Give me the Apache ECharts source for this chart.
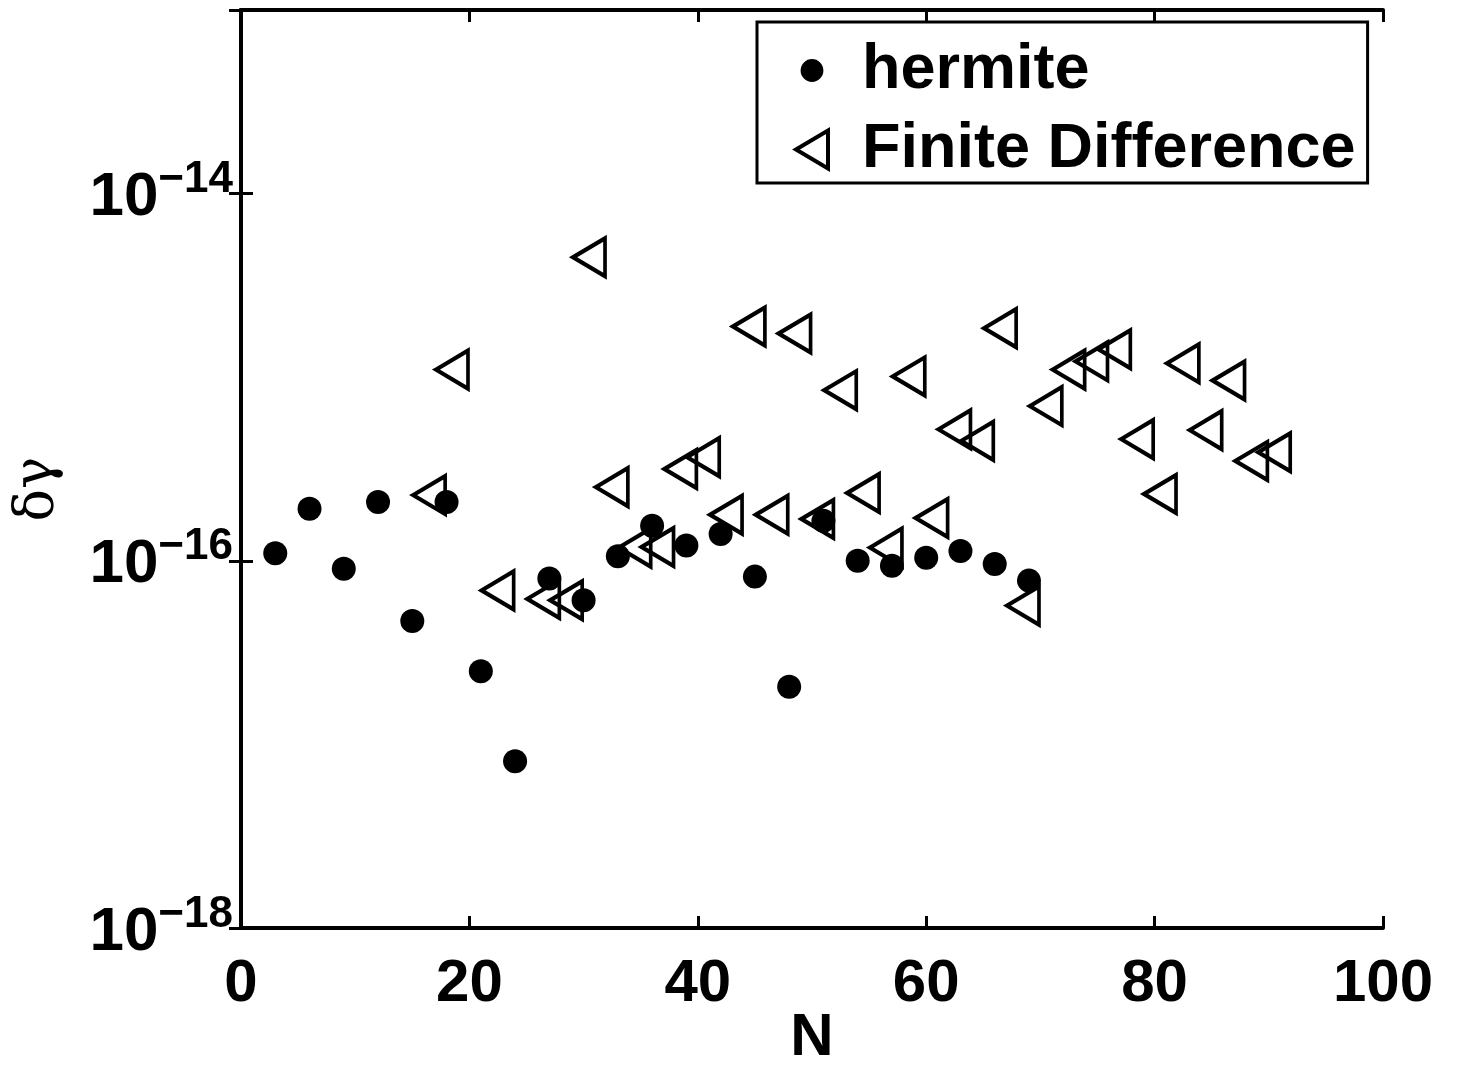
<!DOCTYPE html>
<html>
<head>
<meta charset="utf-8">
<script src="https://cdn.jsdelivr.net/npm/echarts@6/dist/echarts.min.js"></script>
<style>html,body{margin:0;padding:0;background:#fff;}#c{width:1457px;height:1067px;}</style>
</head>
<body>
<div id="c"></div>
<script>
// ---- data ----
const hermiteN = [3, 6, 9, 12, 15, 18, 21, 24, 27, 30, 33, 36, 39, 42, 45, 48, 51, 54, 57, 60, 63, 66, 69];
const hermiteVals = [1.1e-16, 1.92e-16, 0.905e-16, 2.09e-16, 0.47e-16, 2.09e-16, 0.25e-16, 8.1e-18,
  0.8e-16, 0.61e-16, 1.06e-16, 1.55e-16, 1.21e-16, 1.4e-16, 0.82e-16, 0.206e-16, 1.65e-16,
  1.0e-16, 0.94e-16, 1.04e-16, 1.13e-16, 0.96e-16, 0.78e-16];
const fdN = [17, 19, 23, 27, 29, 31, 33, 35, 37, 39, 41, 43, 45, 47, 49, 51, 53, 55, 57, 59, 61, 63,
  65, 67, 69, 71, 73, 75, 77, 79, 81, 83, 85, 87, 89, 91];
const fdVals = [2.28e-16, 1.1e-15, 0.69e-16, 0.62e-16, 0.61e-16, 4.5e-15, 2.52e-16, 1.18e-16, 1.19e-16,
  3.16e-16, 3.67e-16, 1.78e-16, 1.89e-15, 1.78e-16, 1.73e-15, 1.69e-16, 8.5e-16, 2.34e-16, 1.18e-16,
  1.01e-15, 1.71e-16, 5.2e-16, 4.5e-16, 1.85e-15, 0.57e-16, 6.96e-16, 1.1e-15, 1.22e-15, 1.42e-15,
  4.6e-16, 2.31e-16, 1.19e-15, 5.15e-16, 9.6e-16, 3.5e-16, 3.9e-16];
const seriesNames = ['hermite', 'Finite Difference'];
const xTicks = [0, 20, 40, 60, 80, 100];
const yExponents = [-18, -16, -14];

const FONT = 'Liberation Sans';
const TRI = 'path://M0,19 L32,0 L32,38 Z';
const CIRCLE_LEG = 'path://M0,0 M40,40 M32,20 A12,12 0 1 1 32,19.99 Z';

const chart = echarts.init(document.getElementById('c'), null, {renderer: 'canvas'});
const axisLineStyle = {color: '#000', width: 4};
const tickCfg = {show: true, inside: true, length: 12, lineStyle: {color: '#000', width: 3}};

chart.setOption({
  backgroundColor: '#fff',
  animation: false,
  grid: {left: 241, right: 74, top: 10, bottom: 139, containLabel: false, outerBoundsMode: 'none'},
  legend: {
    orient: 'vertical', left: 757, top: 22,
    padding: [17, 12, 2, 36], itemGap: 16,
    itemWidth: 90, itemHeight: 38,
    backgroundColor: '#fff', borderColor: '#000', borderWidth: 3,
    textStyle: {fontSize: 63, fontWeight: 'bold', fontFamily: FONT, color: '#000'},
    data: [
      {name: seriesNames[0], icon: CIRCLE_LEG},
      {name: seriesNames[1], icon: TRI, itemStyle: {color: 'rgba(255,255,255,0)', borderColor: '#000', borderWidth: 4, borderJoin: 'miter'}}
    ]
  },
  xAxis: [{
    type: 'value', min: xTicks[0], max: xTicks[xTicks.length - 1], interval: 20, position: 'bottom',
    axisLine: {show: true, lineStyle: axisLineStyle}, axisTick: tickCfg, splitLine: {show: false},
    axisLabel: {fontSize: 60, fontWeight: 'bold', fontFamily: FONT, color: '#000', margin: 26},
    name: 'N', nameLocation: 'middle', nameGap: 80, nameMoveOverlap: false,
    nameTextStyle: {fontSize: 60, fontWeight: 'bold', fontFamily: FONT, color: '#000'}
  }, {
    type: 'value', min: xTicks[0], max: xTicks[xTicks.length - 1], interval: 20, position: 'top',
    axisLine: {show: true, lineStyle: axisLineStyle}, axisTick: tickCfg, splitLine: {show: false},
    axisLabel: {show: false}
  }],
  yAxis: [{
    type: 'log', logBase: 10, min: Math.pow(10, -18), max: Math.pow(10, -13), interval: 2, position: 'left',
    axisLine: {show: true, lineStyle: axisLineStyle}, axisTick: tickCfg, minorTick: {show: false},
    splitLine: {show: false},
    axisLabel: {
      margin: 8,
      formatter: function (v) {
        const e = Math.round(Math.log10(v));
        if (yExponents.indexOf(e) < 0) return '';
        return '{b|10}{s|\u2212' + Math.abs(e) + '}';
      },
      rich: {
        b: {fontSize: 62, fontWeight: 'bold', fontFamily: FONT, color: '#000', verticalAlign: 'bottom'},
        s: {fontSize: 44, fontWeight: 'bold', fontFamily: FONT, color: '#000', verticalAlign: 'bottom', padding: [0, 0, 27, 0]}
      }
    },
    name: '\u03B4\u03B3', nameLocation: 'middle', nameGap: 176, nameRotate: 90, nameMoveOverlap: false,
    nameTextStyle: {fontSize: 54, fontFamily: 'DejaVu Serif', color: '#000', padding: [0, 40, 0, 0]}
  }, {
    type: 'log', logBase: 10, min: Math.pow(10, -18), max: Math.pow(10, -13), interval: 2, position: 'right',
    axisLine: {show: true, lineStyle: axisLineStyle}, axisTick: tickCfg, minorTick: {show: false},
    splitLine: {show: false}, axisLabel: {show: false}
  }],
  series: [{
    name: seriesNames[1], type: 'scatter', xAxisIndex: 0, yAxisIndex: 0,
    symbol: TRI, symbolSize: [32, 38], symbolOffset: [-6, 0], z: 2,
    itemStyle: {color: 'rgba(255,255,255,0)', borderColor: '#000', borderWidth: 4, borderJoin: 'miter', opacity: 1},
    data: fdN.map((n, i) => [n, fdVals[i]])
  }, {
    name: seriesNames[0], type: 'scatter', xAxisIndex: 0, yAxisIndex: 0,
    symbol: 'circle', symbolSize: 24, z: 3,
    itemStyle: {color: '#000', opacity: 1},
    data: hermiteN.map((n, i) => [n, hermiteVals[i]])
  }]
});
</script>
</body>
</html>
